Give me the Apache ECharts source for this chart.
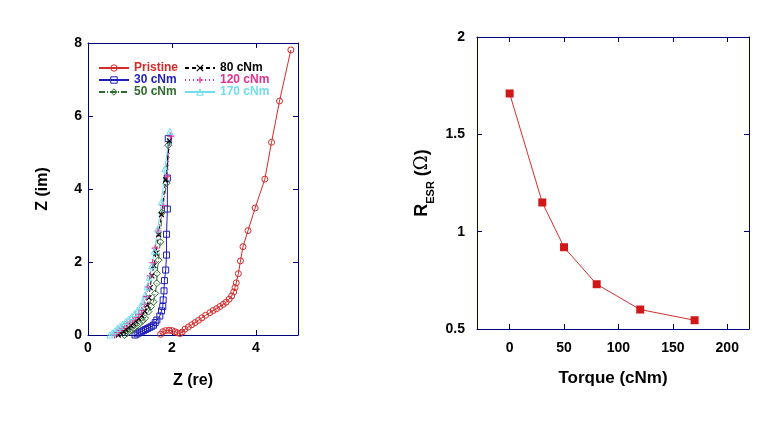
<!DOCTYPE html>
<html><head><meta charset="utf-8">
<script src="https://cdn.jsdelivr.net/npm/echarts@6/dist/echarts.min.js"></script>
<style>html,body{margin:0;padding:0;background:#fff}#c{width:772px;height:423px}</style>
</head><body><div id="c"></div>
<script>
// ---- Left chart: Nyquist plot data [Z(re), Z(im)] ----
const pristine = [[1.73,0.02],[1.78,0.09],[1.85,0.12],[1.93,0.13],[2.0,0.12],[2.07,0.09],[2.13,0.06],[2.19,0.04],[2.24,0.08],[2.31,0.16],[2.39,0.22],[2.47,0.28],[2.55,0.34],[2.63,0.40],[2.71,0.47],[2.80,0.54],[2.90,0.61],[2.98,0.67],[3.06,0.72],[3.14,0.78],[3.22,0.84],[3.29,0.90],[3.36,0.98],[3.42,1.07],[3.47,1.18],[3.50,1.30],[3.53,1.43],[3.58,1.68],[3.63,2.03],[3.69,2.42],[3.81,2.86],[3.98,3.48],[4.21,4.27],[4.37,5.28],[4.56,6.41],[4.83,7.81]];
const t30 = [[1.12,0],[1.17,0.03],[1.22,0.06],[1.27,0.09],[1.32,0.12],[1.37,0.15],[1.42,0.18],[1.47,0.21],[1.52,0.24],[1.56,0.27],[1.60,0.34],[1.64,0.41],[1.71,0.52],[1.75,0.66],[1.78,0.78],[1.79,0.96],[1.81,1.21],[1.82,1.49],[1.85,1.78],[1.87,2.19],[1.87,2.76],[1.89,3.45],[1.89,4.30],[1.91,5.38]];
const t50 = [[0.87,0],[0.93,0.05],[0.99,0.10],[1.05,0.15],[1.11,0.20],[1.17,0.26],[1.23,0.32],[1.30,0.39],[1.36,0.46],[1.44,0.64],[1.50,0.78],[1.56,0.91],[1.60,1.14],[1.64,1.42],[1.64,1.69],[1.68,2.05],[1.72,2.55],[1.76,3.35],[1.87,4.16],[1.91,5.20]];
const t80 = [[0.72,0],[0.78,0.05],[0.84,0.10],[0.90,0.15],[0.96,0.20],[1.02,0.26],[1.08,0.32],[1.14,0.38],[1.21,0.45],[1.28,0.53],[1.35,0.65],[1.41,0.82],[1.45,1.02],[1.48,1.30],[1.52,1.62],[1.57,1.90],[1.62,2.24],[1.68,2.75],[1.75,3.30],[1.85,4.25],[1.94,5.32]];
const t120 = [[0.63,0],[0.69,0.06],[0.75,0.11],[0.81,0.17],[0.87,0.23],[0.93,0.29],[1.00,0.35],[1.07,0.42],[1.14,0.49],[1.21,0.57],[1.28,0.68],[1.34,0.84],[1.39,1.05],[1.43,1.32],[1.48,1.62],[1.54,1.98],[1.60,2.38],[1.67,2.85],[1.79,3.55],[1.89,4.35],[1.97,5.45]];
const t170 = [[0.52,0],[0.58,0.06],[0.64,0.12],[0.70,0.18],[0.76,0.24],[0.83,0.30],[0.90,0.37],[0.97,0.44],[1.04,0.51],[1.11,0.59],[1.18,0.68],[1.25,0.79],[1.31,0.93],[1.36,1.10],[1.41,1.32],[1.46,1.58],[1.52,1.90],[1.58,2.30],[1.66,2.90],[1.75,3.65],[1.83,4.55],[1.95,5.58]];
const leftXTicks = [0, 2, 4];

// ---- Right chart: ESR vs torque ----
const torque = [0, 30, 50, 80, 120, 170];
const resr = [1.71, 1.15, 0.92, 0.73, 0.60, 0.545];
const rightXTicks = [0, 50, 100, 150, 200];

const AX = '#00007a';
const FONT = '"Liberation Sans", Arial, sans-serif';
const lbl = {color:'#000', fontWeight:'bold', fontSize:14, fontFamily:FONT};
const tick = {show:true, inside:true, length:5, lineStyle:{color:AX}};

function mainAxis(extra){
  return Object.assign({type:'value', axisLine:{show:true, onZero:false, lineStyle:{color:AX, width:1}},
    axisTick:tick, splitLine:{show:false}, axisLabel:Object.assign({margin:6}, lbl)}, extra);
}
function mirror(extra){
  return Object.assign({type:'value', axisLine:{show:true, onZero:false, lineStyle:{color:AX, width:1}},
    axisTick:tick, splitLine:{show:false}, axisLabel:{show:false}}, extra);
}

const nyq = [
  {name:'Pristine', data:pristine, color:'#d42a2a', symbol:'circle', size:6, type:'solid'},
  {name:'30 cNm', data:t30, color:'#1e1eb8', symbol:'rect', size:6, type:'solid'},
  {name:'50 cNm', data:t50, color:'#2f6a2f', symbol:'diamond', size:7, type:[6,2,1,2]},
  {name:'80 cNm', data:t80, color:'#000000', symbol:'path://M0,0L10,10M10,0L0,10', size:5, type:[4,3]},
  {name:'120 cNm', data:t120, color:'#e2308c', symbol:'path://M5,0L5,10M0,5L10,5', size:7, type:[1,3]},
  {name:'170 cNm', data:t170, color:'#72dcef', symbol:'triangle', size:6, type:'solid'}
];

function symStyle(s){
  return s.symbol.startsWith('path') ? {color:s.color, borderColor:s.color, borderWidth:1.2}
                                      : {color:'rgba(255,255,255,0)', borderColor:s.color, borderWidth:1};
}

const series = nyq.map(s => ({
  type:'line', name:s.name, xAxisIndex:0, yAxisIndex:0, data:s.data,
  symbol:s.symbol, symbolSize:s.size, showAllSymbol:true,
  color:s.color, itemStyle:symStyle(s),
  lineStyle:{color:s.color, width:1, type:s.type},
  z: 2
}));
series.push({
  type:'line', name:'ESR', xAxisIndex:2, yAxisIndex:2,
  data: torque.map((t,i)=>[t, resr[i]]),
  symbol:'rect', symbolSize:8, color:'#d01818',
  itemStyle:{color:'#d01818'}, lineStyle:{color:'#d03030', width:1}
});

const legendText = {fontWeight:'bold', fontSize:12, fontFamily:FONT, lineHeight:12};
function legendData(list){
  return list.map(s => ({name:s.name, itemStyle:symStyle(s), textStyle:Object.assign({color:s.color}, legendText)}));
}

const option = {
  backgroundColor:'#fff',
  animation:false,
  grid:[
    {left:88, top:43, width:210, height:292},
    {left:477, top:37, width:272, height:292}
  ],
  legend:[
    {left:93, top:57, orient:'vertical', itemWidth:30, itemHeight:8, itemGap:0, data:legendData(nyq.slice(0,3)), textStyle:legendText},
    {left:179, top:57, orient:'vertical', itemWidth:30, itemHeight:8, itemGap:0, data:legendData(nyq.slice(3)), textStyle:legendText}
  ],
  xAxis:[
    mainAxis({gridIndex:0, min:0, max:5, name:'Z (re)', nameLocation:'middle', nameGap:38,
      nameTextStyle:{fontWeight:'bold', fontSize:16, fontFamily:FONT, color:'#000'},
      axisLabel:Object.assign({margin:6, customValues:leftXTicks}, lbl),
      axisTick:Object.assign({customValues:leftXTicks}, tick)}),
    mirror({gridIndex:0, position:'top', min:0, max:5,
      axisTick:Object.assign({customValues:leftXTicks}, tick)}),
    mainAxis({gridIndex:1, min:-30, max:220, name:'Torque (cNm)', nameLocation:'middle', nameGap:41,
      nameTextStyle:{fontWeight:'bold', fontSize:17, fontFamily:FONT, color:'#000'},
      axisLabel:Object.assign({margin:12, customValues:rightXTicks}, lbl),
      axisTick:Object.assign({customValues:rightXTicks}, tick)}),
    mirror({gridIndex:1, position:'top', min:-30, max:220,
      axisTick:Object.assign({customValues:rightXTicks}, tick)})
  ],
  yAxis:[
    mainAxis({gridIndex:0, min:0, max:8, interval:2, name:'Z (im)', nameLocation:'middle', nameGap:37,
      nameTextStyle:{fontWeight:'bold', fontSize:16, fontFamily:FONT, color:'#000'}}),
    mirror({gridIndex:0, position:'right', min:0, max:8, interval:2}),
    mainAxis({gridIndex:1, min:0.5, max:2, interval:0.5, name:'{a|R}{s|ESR}{a| (}{o|Ω}{a|)}', nameLocation:'middle', nameGap:46,
      axisLabel:Object.assign({margin:12}, lbl),
      nameTextStyle:{color:'#000', rich:{
        a:{fontWeight:'bold', fontSize:18, fontFamily:FONT, color:'#000', lineHeight:22, verticalAlign:'bottom'},
        s:{fontWeight:'bold', fontSize:11, fontFamily:FONT, color:'#000', lineHeight:22, verticalAlign:'bottom', padding:[0,0,-5,0]},
        o:{fontWeight:'normal', fontSize:18, fontFamily:'"DejaVu Serif", serif', color:'#000', lineHeight:22, verticalAlign:'bottom'}
      }}}),
    mirror({gridIndex:1, position:'right', min:0.5, max:2, interval:0.5})
  ],
  series: series
};
const chart = echarts.init(document.getElementById('c'), null, {renderer:'canvas'});
chart.setOption(option);
</script></body></html>
